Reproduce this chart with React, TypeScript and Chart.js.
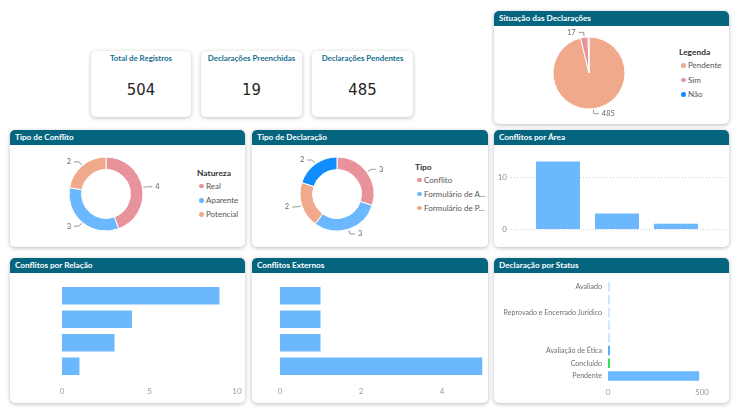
import React, { useEffect, useRef } from "react";
import { Chart, registerables } from "chart.js";
Chart.register(...registerables);

// ---------- DATA ----------
const kpiLabels = ["Total de Registros", "Declarações Preenchidas", "Declarações Pendentes"];
const kpiValues = [504, 19, 485];

const situacaoLabels = ["Pendente", "Sim", "Não"];
const situacaoValues = [485, 17, 2];

const naturezaLabels = ["Real", "Aparente", "Potencial"];
const naturezaValues = [4, 3, 2];

const tipoLabels = ["Conflito", "Formulário de A...", "Formulário de P...", "Outro"];
const tipoValues = [3, 3, 2, 2];

const areaLabels = ["", "", ""];
const areaValues = [13, 3, 1];
const areaTicks = [0, 10];

const relacaoLabels = ["", "", "", ""];
const relacaoValues = [9, 4, 3, 1];
const relacaoTicks = [0, 5, 10];

const externosLabels = ["", "", "", ""];
const externosValues = [1, 1, 1, 5];
const externosTicks = [0, 2, 4];

const statusLabels = ["Avaliado", "", "Reprovado e Encerrado Jurídico", "", "", "Avaliação de Ética", "Concluído", "Pendente"];
const statusValues = [2, 3, 2, 3, 2, 4, 3, 485];
const statusTicks = [0, 500];

// ---------- STYLE ----------
const FONT = "Lato, 'Noto Sans', sans-serif";
const HEADER = "#05657f";
const BLUE_L = "#6cb8ff";
const PINK = "#e8929b";
const SALMON = "#f0a98a";
const BLUE_D = "#118dff";
const situacaoColors = [SALMON, PINK, BLUE_D];
const naturezaColors = [PINK, BLUE_L, SALMON];
const tipoColors = [PINK, BLUE_L, SALMON, BLUE_D];
const statusColors = ["#cfe6ff", "#cfe6ff", "#cfe6ff", "#cfe6ff", "#cfe6ff", "#5eaef7", "#3fdc5c", BLUE_L];

const leaderLabels = {
  id: "leaderLabels",
  afterDatasetsDraw(chart: any, _a: any, opts: any) {
    if (!opts || !opts.show) return;
    const ctx = chart.ctx;
    const meta = chart.getDatasetMeta(0);
    const data = chart.data.datasets[0].data as number[];
    const total = data.reduce((a, b) => a + b, 0);
    ctx.save();
    ctx.font = `7.5px ${FONT}`;
    ctx.fillStyle = "#666";
    ctx.strokeStyle = "#999";
    ctx.lineWidth = 1;
    meta.data.forEach((arc: any, i: number) => {
      if (data[i] / total < (opts.minFrac || 0)) return;
      const p = arc.getProps(["x", "y", "startAngle", "endAngle", "outerRadius"], true);
      const mid = (p.startAngle + p.endAngle) / 2;
      const c = Math.cos(mid), s = Math.sin(mid);
      const x0 = p.x + c * (p.outerRadius + 1), y0 = p.y + s * (p.outerRadius + 1);
      const x1 = p.x + c * (p.outerRadius + 5), y1 = p.y + s * (p.outerRadius + 5);
      const dir = c >= 0 ? 1 : -1;
      const x2 = x1 + dir * 5;
      ctx.beginPath();
      ctx.moveTo(x0, y0);
      ctx.lineTo(x1, y1);
      ctx.lineTo(x2, y1);
      ctx.stroke();
      ctx.textAlign = dir > 0 ? "left" : "right";
      ctx.textBaseline = "middle";
      ctx.fillText(String(data[i]), x2 + dir * 3, y1);
    });
    ctx.restore();
  },
};

const extGrid = {
  id: "extGrid",
  beforeDatasetsDraw(chart: any, _a: any, opts: any) {
    if (!opts || !opts.show) return;
    const ctx = chart.ctx;
    const y = chart.scales.y;
    ctx.save();
    ctx.strokeStyle = "#cfcfcf";
    ctx.lineWidth = 1;
    ctx.setLineDash([1, 2]);
    y.ticks.forEach((t: any) => {
      const py = Math.round(y.getPixelForValue(t.value)) + 0.5;
      ctx.beginPath();
      ctx.moveTo(opts.x0, py);
      ctx.lineTo(opts.x1, py);
      ctx.stroke();
    });
    ctx.restore();
  },
};

Chart.register(leaderLabels, extGrid);

function ChartBox({ left, top, width, height, config }: any) {
  const ref = useRef<HTMLCanvasElement>(null);
  useEffect(() => {
    const ch = new Chart(ref.current as HTMLCanvasElement, config());
    return () => ch.destroy();
  }, []);
  return (
    <canvas
      ref={ref}
      width={width}
      height={height}
      style={{ position: "absolute", left, top, width, height }}
    />
  );
}

function Card({ left, top, width, height, title }: any) {
  return (
    <div
      style={{
        position: "absolute",
        left,
        top,
        width,
        height,
        background: "#fff",
        borderRadius: 5,
        boxShadow: "0 1px 4px rgba(0,0,0,0.28)",
        overflow: "hidden",
      }}
    >
      <div
        style={{
          height: 15,
          background: HEADER,
          color: "#fff",
          fontFamily: FONT,
          fontWeight: 700,
          fontSize: 8.2,
          lineHeight: "15px",
          paddingLeft: 5,
          whiteSpace: "nowrap",
        }}
      >
        {title}
      </div>
    </div>
  );
}

function Kpi({ left, i, width }: any) {
  return (
    <div
      style={{
        position: "absolute",
        left,
        top: 51,
        width,
        height: 66,
        background: "#fff",
        borderRadius: 5,
        boxShadow: "0 1px 4px rgba(0,0,0,0.25)",
        textAlign: "center",
      }}
    >
      <div style={{ position: "absolute", left: 0, right: 0, top: 1, fontFamily: FONT, fontWeight: 700, fontSize: 7.9, color: "#16708f", lineHeight: "12px" }}>
        {kpiLabels[i]}
      </div>
      <div style={{ position: "absolute", left: 0, right: 0, top: 28, fontFamily: "'DejaVu Sans Condensed', 'DejaVu Sans', sans-serif", fontSize: 16.5, color: "#252423", lineHeight: "22px" }}>
        {kpiValues[i]}
      </div>
    </div>
  );
}

function Legend({ left, top, title, labels, colors, gap }: any) {
  return (
    <div style={{ position: "absolute", left, top, fontFamily: FONT, whiteSpace: "nowrap" }}>
      <div style={{ fontWeight: 700, fontSize: 8.4, color: "#333", height: 12, lineHeight: "12px" }}>{title}</div>
      {labels.map((l: string, k: number) => (
        <div key={k} style={{ height: gap, lineHeight: gap + "px", fontSize: 8, color: "#555", display: "flex", alignItems: "center" }}>
          <span style={{ display: "inline-block", width: 4.5, height: 4.5, borderRadius: "50%", background: colors[k], marginLeft: 2, marginRight: 2.5 }} />
          {l}
        </div>
      ))}
    </div>
  );
}

function doughnutConfig(labels: string[], values: number[], colors: string[], radius: number, cutout: string, minFrac: number) {
  return () => ({
    type: "doughnut",
    data: { labels, datasets: [{ data: values, backgroundColor: colors, borderColor: "#fff", borderWidth: 1 }] },
    options: {
      responsive: false,
      animation: false,
      radius,
      cutout,
      layout: { padding: 0 },
      plugins: { legend: { display: false }, tooltip: { enabled: false }, leaderLabels: { show: true, minFrac } },
    },
  });
}

const tickFont = { family: FONT, size: 8 };

function zeroPad(s: any) {
  s.paddingLeft = 0;
  s.paddingRight = 0;
  s.paddingTop = 0;
  s.paddingBottom = 0;
}

function hbarConfig(labels: string[], values: number[], ticks: number[], colors: any, o: any) {
  return () => ({
    type: "bar",
    data: { labels, datasets: [{ data: values, backgroundColor: colors, categoryPercentage: 1, barPercentage: o.bp, minBarLength: o.minLen || 0 }] },
    options: {
      indexAxis: "y",
      responsive: false,
      animation: false,
      layout: { padding: { left: 0, right: o.right, top: o.top, bottom: 0 } },
      plugins: { legend: { display: false }, tooltip: { enabled: false } },
      scales: {
        x: {
          min: 0,
          max: o.max,
          grid: { display: false, drawTicks: false },
          border: { display: false },
          afterBuildTicks: (s: any) => { s.ticks = ticks.map((v) => ({ value: v })); },
          afterFit: (s: any) => { s.height = o.xh; zeroPad(s); },
          ticks: { padding: o.xpad, font: tickFont, color: "#9a9a9a", maxRotation: 0 },
        },
        y: {
          grid: { display: false, drawTicks: false },
          border: { display: false },
          afterFit: (s: any) => { s.width = o.yw; zeroPad(s); },
          ticks: { padding: 6, font: { family: FONT, size: 7.1 }, color: "#707070", autoSkip: false },
        },
      },
    },
  });
}

const areaConfig = () => ({
  type: "bar",
  data: { labels: areaLabels, datasets: [{ data: areaValues, backgroundColor: BLUE_L, categoryPercentage: 1, barPercentage: 44 / 59 }] },
  options: {
    responsive: false,
    animation: false,
    layout: { padding: { left: 0, right: 23.5, top: 6, bottom: 18 } },
    plugins: { legend: { display: false }, tooltip: { enabled: false }, extGrid: { show: true, x0: 17, x1: 231 } },
    scales: {
      x: { display: false },
      y: {
        min: 0,
        max: 15,
        grid: { display: false, drawTicks: false },
        border: { display: false },
        afterBuildTicks: (s: any) => { s.ticks = areaTicks.map((v) => ({ value: v })); },
        afterFit: (s: any) => { s.width = 34.5; zeroPad(s); },
        ticks: { padding: 21.5, font: tickFont, color: "#8a8a8a" },
      },
    },
  },
});

export default function App() {
  return (
    <div style={{ position: "absolute", left: 0, top: 0, width: 740, height: 410, background: "#fff", overflow: "hidden" }}>
      <Kpi left={91} width={100} i={0} />
      <Kpi left={201} width={101} i={1} />
      <Kpi left={312} width={101} i={2} />

      <Card left={494} top={11} width={235} height={113} title="Situação das Declarações" />
      <Card left={10} top={130} width={235} height={117} title="Tipo de Conflito" />
      <Card left={252} top={130} width={236} height={117} title="Tipo de Declaração" />
      <Card left={494} top={130} width={235} height={117} title="Conflitos por Área" />
      <Card left={10} top={258} width={235} height={145} title="Conflitos por Relação" />
      <Card left={252} top={258} width={236} height={145} title="Conflitos Externos" />
      <Card left={494} top={258} width={235} height={145} title="Declaração por Status" />

      <ChartBox left={519} top={27} width={140} height={92} config={doughnutConfig(situacaoLabels, situacaoValues, situacaoColors, 36, "0%", 0.01)} />
      <Legend left={679} top={46} title="Legenda" labels={situacaoLabels} colors={situacaoColors} gap={14.5} />

      <ChartBox left={46} top={144} width={120} height={100} config={doughnutConfig(naturezaLabels, naturezaValues, naturezaColors, 37, "66%", 0)} />
      <Legend left={197} top={167} title="Natureza" labels={naturezaLabels} colors={naturezaColors} gap={14.2} />

      <ChartBox left={277} top={144} width={120} height={100} config={doughnutConfig(tipoLabels, tipoValues, tipoColors, 37, "66%", 0)} />
      <Legend left={415} top={161} title="Tipo" labels={tipoLabels.slice(0, 3)} colors={tipoColors} gap={14} />

      <ChartBox left={494} top={145} width={235} height={102} config={areaConfig} />

      <ChartBox left={10} top={272} width={235} height={131}
        config={hbarConfig(relacaoLabels, relacaoValues, relacaoTicks, BLUE_L, { bp: 0.745, right: 8, top: 12, max: 10, xh: 25, xpad: 9, yw: 52 })} />
      <ChartBox left={252} top={272} width={236} height={131}
        config={hbarConfig(externosLabels, externosValues, externosTicks, BLUE_L, { bp: 0.745, right: 5.5, top: 12, max: 5, xh: 25, xpad: 9, yw: 28 })} />
      <ChartBox left={494} top={272} width={235} height={131}
        config={hbarConfig(statusLabels, statusValues, statusTicks, statusColors, { bp: 0.75, right: 21.4, top: 8.7, max: 530, xh: 20.7, xpad: 5, yw: 114, minLen: 2 })} />
    </div>
  );
}
